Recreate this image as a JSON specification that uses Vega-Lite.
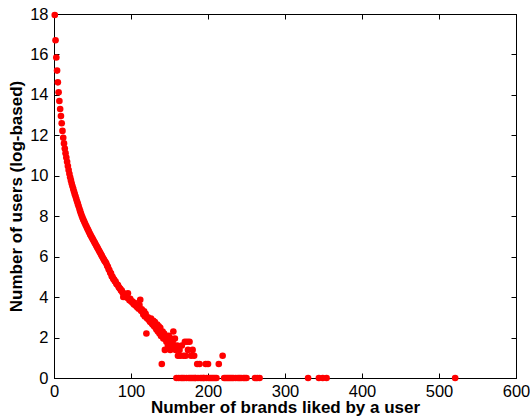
{
  "$schema": "https://vega.github.io/schema/vega-lite/v6.json",
  "width": 462,
  "height": 364,
  "autosize": {"type": "none"},
  "padding": {"left": 54, "top": 14, "right": 14, "bottom": 39},
  "background": "white",
  "data": {"values": [
    {"brands":1,"users":17.95},{"brands":2,"users":16.7},{"brands":3,"users":15.85},{"brands":4,"users":15.2},{"brands":5,"users":14.62},
    {"brands":6,"users":14.13},{"brands":7,"users":13.7},{"brands":8,"users":13.3},{"brands":9,"users":12.95},{"brands":10,"users":12.6},
    {"brands":11,"users":12.22},{"brands":12,"users":11.88},{"brands":13,"users":11.6},{"brands":14,"users":11.35},{"brands":15,"users":11.12},
    {"brands":16,"users":10.9},{"brands":17,"users":10.69},{"brands":18,"users":10.48},{"brands":19,"users":10.28},{"brands":20,"users":10.1},
    {"brands":21,"users":9.93},{"brands":22,"users":9.77},{"brands":23,"users":9.62},{"brands":24,"users":9.48},{"brands":25,"users":9.35},
    {"brands":26,"users":9.22},{"brands":27,"users":9.09},{"brands":28,"users":8.97},{"brands":29,"users":8.85},{"brands":30,"users":8.73},
    {"brands":31,"users":8.61},{"brands":32,"users":8.49},{"brands":33,"users":8.37},{"brands":34,"users":8.25},{"brands":35,"users":8.13},
    {"brands":36,"users":8.02},{"brands":37,"users":7.93},{"brands":38,"users":7.84},{"brands":39,"users":7.75},{"brands":40,"users":7.66},
    {"brands":41,"users":7.58},{"brands":42,"users":7.5},{"brands":43,"users":7.42},{"brands":44,"users":7.34},{"brands":45,"users":7.26},
    {"brands":46,"users":7.18},{"brands":47,"users":7.1},{"brands":48,"users":7.03},{"brands":49,"users":6.96},{"brands":50,"users":6.89},
    {"brands":51,"users":6.82},{"brands":52,"users":6.75},{"brands":53,"users":6.68},{"brands":54,"users":6.61},{"brands":55,"users":6.54},
    {"brands":56,"users":6.47},{"brands":57,"users":6.4},{"brands":58,"users":6.33},{"brands":59,"users":6.26},{"brands":60,"users":6.19},
    {"brands":61,"users":6.12},{"brands":62,"users":6.05},{"brands":63,"users":5.98},{"brands":64,"users":5.91},{"brands":65,"users":5.84},
    {"brands":66,"users":5.77},{"brands":67,"users":5.72},{"brands":68,"users":5.66},{"brands":69,"users":5.55},{"brands":70,"users":5.5},
    {"brands":71,"users":5.38},{"brands":72,"users":5.33},{"brands":73,"users":5.2},{"brands":74,"users":5.18},{"brands":75,"users":5.03},
    {"brands":76,"users":5.0},{"brands":77,"users":4.9},{"brands":78,"users":4.87},{"brands":79,"users":4.78},{"brands":80,"users":4.77},
    {"brands":81,"users":4.66},{"brands":82,"users":4.62},{"brands":83,"users":4.6},{"brands":84,"users":4.5},{"brands":85,"users":4.45},
    {"brands":86,"users":4.41},{"brands":87,"users":4.33},{"brands":88,"users":4.32},{"brands":89,"users":4.23},{"brands":90,"users":4.01},
    {"brands":91,"users":4.17},{"brands":92,"users":4.09},{"brands":93,"users":4.06},{"brands":94,"users":4.0},{"brands":95,"users":3.97},
    {"brands":96,"users":4.19},{"brands":97,"users":3.93},{"brands":98,"users":3.85},{"brands":99,"users":3.91},{"brands":100,"users":3.81},
    {"brands":101,"users":3.76},{"brands":102,"users":3.78},{"brands":103,"users":3.69},{"brands":104,"users":3.64},{"brands":105,"users":3.71},
    {"brands":106,"users":3.58},{"brands":107,"users":3.56},{"brands":108,"users":3.5},{"brands":109,"users":3.53},{"brands":110,"users":3.43},
    {"brands":111,"users":3.61},{"brands":112,"users":3.87},{"brands":113,"users":3.33},{"brands":114,"users":3.4},{"brands":115,"users":3.26},
    {"brands":116,"users":3.14},{"brands":117,"users":3.3},{"brands":118,"users":3.04},{"brands":119,"users":3.18},{"brands":120,"users":2.2},
    {"brands":121,"users":2.94},{"brands":122,"users":3.0},{"brands":123,"users":2.89},{"brands":124,"users":2.83},{"brands":125,"users":2.77},
    {"brands":126,"users":2.94},{"brands":127,"users":2.71},{"brands":128,"users":2.64},{"brands":129,"users":2.83},{"brands":130,"users":2.56},
    {"brands":131,"users":2.77},{"brands":132,"users":2.48},{"brands":133,"users":2.4},{"brands":134,"users":2.64},{"brands":135,"users":2.3},
    {"brands":136,"users":2.56},{"brands":137,"users":2.2},{"brands":138,"users":2.48},{"brands":139,"users":2.08},{"brands":140,"users":0.69},
    {"brands":141,"users":2.3},{"brands":142,"users":1.95},{"brands":143,"users":2.2},{"brands":144,"users":1.39},{"brands":145,"users":2.08},
    {"brands":146,"users":1.79},{"brands":147,"users":1.95},{"brands":148,"users":1.61},{"brands":149,"users":2.08},{"brands":150,"users":1.79},
    {"brands":151,"users":1.39},{"brands":152,"users":1.95},{"brands":153,"users":1.61},{"brands":154,"users":1.79},{"brands":155,"users":2.3},
    {"brands":156,"users":1.61},{"brands":157,"users":1.95},{"brands":158,"users":1.39},{"brands":159,"users":0},{"brands":160,"users":1.61},
    {"brands":161,"users":1.1},{"brands":162,"users":0},{"brands":163,"users":1.39},{"brands":164,"users":1.1},{"brands":165,"users":0},
    {"brands":166,"users":1.61},{"brands":167,"users":0},{"brands":168,"users":1.1},{"brands":169,"users":0},{"brands":170,"users":1.79},
    {"brands":171,"users":1.1},{"brands":172,"users":0},{"brands":173,"users":1.79},{"brands":174,"users":1.39},{"brands":175,"users":0},
    {"brands":176,"users":1.79},{"brands":177,"users":0},{"brands":178,"users":1.1},{"brands":179,"users":0},{"brands":180,"users":1.39},
    {"brands":181,"users":0},{"brands":182,"users":1.1},{"brands":183,"users":0},{"brands":184,"users":0},{"brands":186,"users":0.69},
    {"brands":187,"users":0},{"brands":189,"users":0.69},{"brands":190,"users":0},{"brands":192,"users":0},{"brands":194,"users":0},
    {"brands":195,"users":0},{"brands":197,"users":0.69},{"brands":198,"users":0},{"brands":200,"users":0.69},{"brands":201,"users":0},
    {"brands":203,"users":0},{"brands":205,"users":0},{"brands":207,"users":0},{"brands":209,"users":0},{"brands":211,"users":0},
    {"brands":214,"users":0.69},{"brands":219,"users":1.1},{"brands":221,"users":0},{"brands":223,"users":0},{"brands":225,"users":0},
    {"brands":227,"users":0},{"brands":229,"users":0},{"brands":231,"users":0},{"brands":233,"users":0},{"brands":236,"users":0},
    {"brands":239,"users":0},{"brands":241,"users":0},{"brands":243,"users":0},{"brands":246,"users":0},{"brands":248,"users":0},
    {"brands":250,"users":0},{"brands":261,"users":0},{"brands":264,"users":0},{"brands":267,"users":0},{"brands":330,"users":0},
    {"brands":344,"users":0},{"brands":349,"users":0},{"brands":354,"users":0},{"brands":521,"users":0}
  ]},
  "layer": [
    {
      "mark": {"type": "circle", "color": "#ff0000", "opacity": 1, "size": 44, "clip": false},
      "encoding": {
        "x": {"field": "brands", "type": "quantitative",
              "scale": {"domain": [0, 600], "nice": false, "zero": false},
              "axis": {"orient": "bottom", "values": [0,100,200,300,400,500,600], "title": "Number of brands liked by a user",
                       "tickSize": -5, "labelPadding": 10, "titlePadding": 0}},
        "y": {"field": "users", "type": "quantitative",
              "scale": {"domain": [0, 18], "nice": false, "zero": false},
              "axis": {"orient": "left", "values": [0,2,4,6,8,10,12,14,16,18], "title": "Number of users (log-based)",
                       "tickSize": -5, "labelPadding": 11, "titlePadding": 4}}
      }
    },
    {
      "mark": {"type": "circle", "opacity": 0},
      "encoding": {
        "x": {"field": "brands", "type": "quantitative",
              "scale": {"domain": [0, 600], "nice": false, "zero": false},
              "axis": {"orient": "top", "values": [0,100,200,300,400,500,600], "labels": false, "title": null, "tickSize": -5}},
        "y": {"field": "users", "type": "quantitative",
              "scale": {"domain": [0, 18], "nice": false, "zero": false},
              "axis": {"orient": "right", "values": [0,2,4,6,8,10,12,14,16,18], "labels": false, "title": null, "tickSize": -5}}
      }
    }
  ],
  "resolve": {"axis": {"x": "independent", "y": "independent"}},
  "config": {
    "font": "Liberation Sans",
    "view": {"stroke": "#000000", "strokeWidth": 1},
    "axis": {
      "grid": false,
      "domainColor": "#000000",
      "domainWidth": 1,
      "tickColor": "#000000",
      "tickWidth": 1,
      "labelFont": "Liberation Sans",
      "labelFontSize": 16.5,
      "labelColor": "#000000",
      "labelFlush": false,
      "labelOverlap": false,
      "titleFont": "Liberation Sans",
      "titleFontSize": 17,
      "titleFontWeight": "bold",
      "titleColor": "#000000"
    }
  }
}
